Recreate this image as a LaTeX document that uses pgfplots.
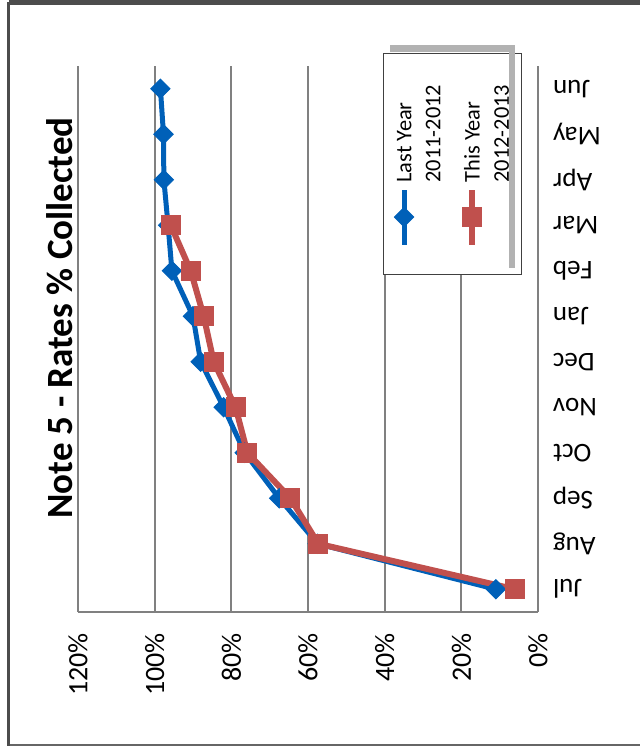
\documentclass[border=0pt]{standalone}
\usepackage{pgfplots}
\pgfplotsset{compat=1.18}
\usepackage{fontspec}
\setmainfont{Carlito}
\definecolor{lyblue}{RGB}{0,96,184}
\definecolor{tyred}{RGB}{192,80,77}
\definecolor{gridgray}{RGB}{128,128,128}
\pgfplotsset{myleg/.style={legend image code/.code={\draw[mark repeat=2, mark phase=2, ##1] plot coordinates {(0pt,3.6pt) (13.75pt,3.6pt) (27.5pt,3.6pt)};}}}
\begin{document}
\begin{tikzpicture}[rotate=90, transform shape]
\path[use as bounding box] (-67pt,-51pt) rectangle (306pt,269pt);
\draw[black!60, line width=1pt] (-66.5pt,-70pt) -- (-66.5pt,264.5pt);
\draw[black!70, line width=1.5pt] (-67pt,264.5pt) -- (305pt,264.5pt);
\draw[black!70, line width=2.5pt] (304.75pt,264.5pt) -- (304.75pt,-70pt);
\begin{axis}[
  at={(0pt,0pt)}, anchor=south west,
  scale only axis, width=273pt, height=230pt,
  xmin=-0.5, xmax=11.5, ymin=0, ymax=120,
  axis x line*=bottom, axis y line*=left,
  axis line style={gridgray, line width=1pt, -},
  ymajorgrids, grid style={gridgray, line width=1pt},
  major tick length=0pt,
  xtick={0,...,11},
  xticklabels={Jul,Aug,Sep,Oct,Nov,Dec,Jan,Feb,Mar,Apr,May,Jun},
  xticklabel style={rotate=90, anchor=east, font=\fontsize{13.5}{14}\selectfont},
  xticklabel shift=4pt,
  ytick={0,20,40,60,80,100,120},
  yticklabels={0\%,20\%,40\%,60\%,80\%,100\%,120\%},
  yticklabel style={font=\fontsize{14}{15}\selectfont},
  yticklabel shift=7pt,
  legend style={at={(0.617,0.337)}, anchor=north west, draw=black!75, line width=0.6pt, fill=white,
    font=\fontsize{11.2}{13}\selectfont, inner xsep=13.5pt, inner ysep=2.75pt, row sep=0pt,
    cells={anchor=base west, inner xsep=3pt, inner ysep=0pt}},
]
\addplot[lyblue, line width=2.5pt, mark=square*, mark size=3.4pt,
  mark options={solid, rotate=45, line width=0.5pt}, myleg]
  coordinates {(0,11) (1,57.5) (2,67.5) (3,76.5) (4,82) (5,88) (6,90) (7,95.5) (8,96.5) (9,97.6) (10,97.7) (11,98.5)};
\addlegendentry{\strut Last Year}
\addlegendimage{empty legend}
\addlegendentry{\strut 2011-2012}
\addplot[tyred, line width=3pt, mark=square*, mark size=4.75pt,
  mark options={solid, line width=0.5pt}, myleg]
  coordinates {(0,6) (1,57.3) (2,64.6) (3,75.8) (4,78.9) (5,84.6) (6,87.2) (7,90.6) (8,95.8)};
\addlegendentry{\strut\rule{0pt}{14.1pt}This Year}
\addlegendimage{empty legend}
\addlegendentry{\strut 2012-2013\rule[-7pt]{0pt}{0pt}}
\end{axis}
\fill[black!30] (279.8pt,11.5pt) rectangle (283.5pt,74pt);
\fill[black!30] (172pt,11.5pt) rectangle (283.5pt,14.7pt);
\node[font=\bfseries\fontsize{18.5}{20}\selectfont] at (147pt,239pt) {Note 5 - Rates \% Collected};
\end{tikzpicture}
\end{document}
